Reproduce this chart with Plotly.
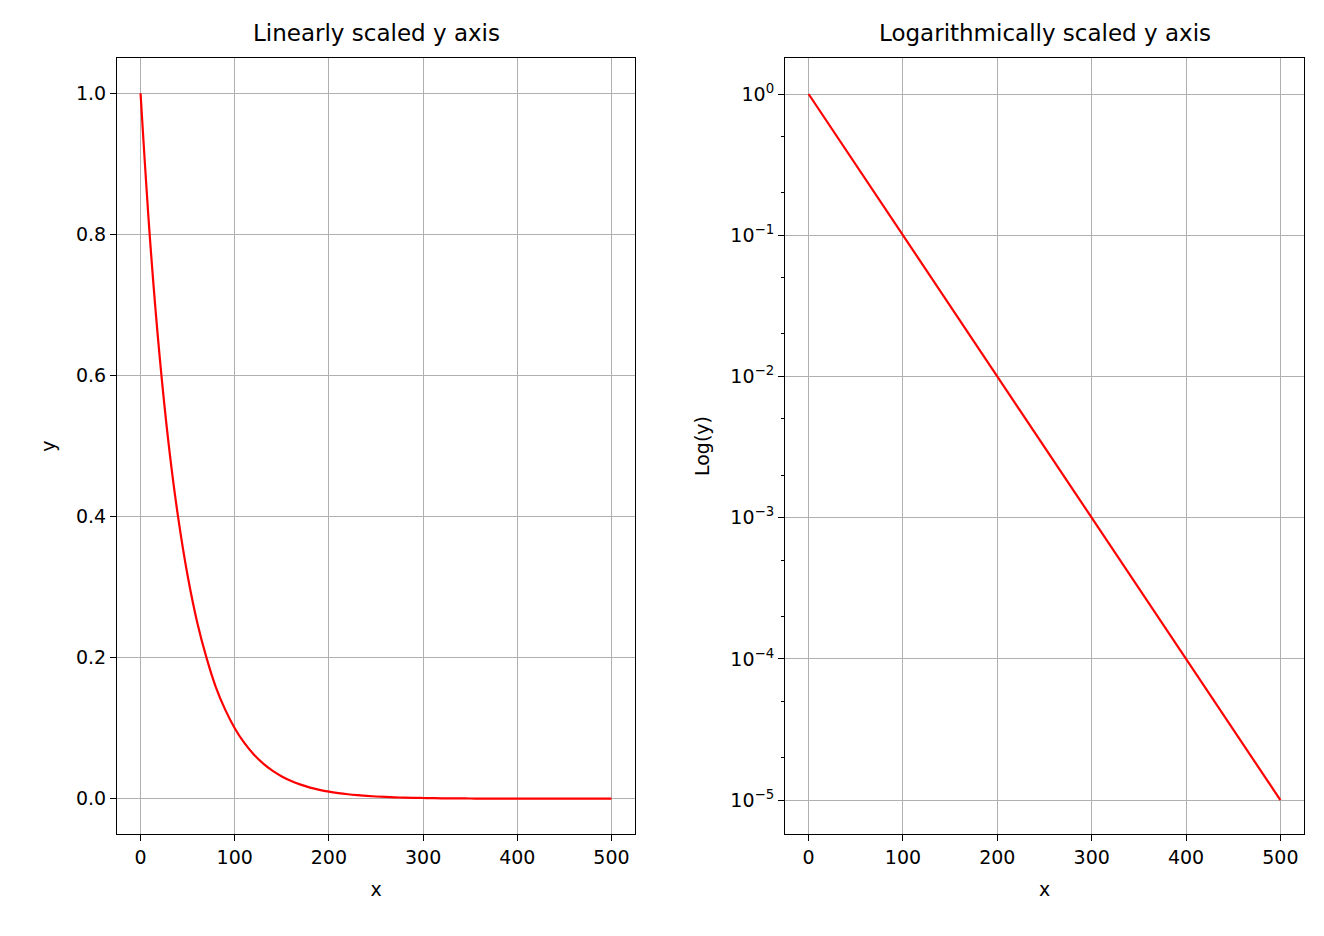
import plotly.graph_objects as go

x_vals = list(range(0, 501, 10))
y_vals = [
    1.0, 0.794, 0.631, 0.501, 0.398, 0.316, 0.251, 0.200, 0.158, 0.126,
    0.1, 0.0794, 0.0631, 0.0501, 0.0398, 0.0316, 0.0251, 0.0200, 0.0158, 0.0126,
    0.01, 0.00794, 0.00631, 0.00501, 0.00398, 0.00316, 0.00251, 0.00200, 0.00158, 0.00126,
    0.001, 0.000794, 0.000631, 0.000501, 0.000398, 0.000316, 0.000251, 0.000200, 0.000158, 0.000126,
    0.0001, 0.0000794, 0.0000631, 0.0000501, 0.0000398, 0.0000316, 0.0000251, 0.0000200, 0.0000158, 0.0000126,
    0.00001,
]
log_tickvals = [1, 0.1, 0.01, 0.001, 0.0001, 0.00001]
log_ticktext = ["10<sup>0</sup>", "10<sup>−1</sup>", "10<sup>−2</sup>",
                "10<sup>−3</sup>", "10<sup>−4</sup>", "10<sup>−5</sup>"]

# page has an 8px body margin, so size the figure to fit inside it
OFF = 8
W, H = 1324 - 2 * OFF, 936 - 2 * OFF


def px_x(p):
    return (p - OFF) / W


def px_y(p):
    return 1 - (p - OFF) / H


fig = go.Figure()
fig.add_trace(go.Scatter(x=x_vals, y=y_vals, mode="lines", line=dict(color="red", width=2.2, shape="spline"),
                         xaxis="x", yaxis="y", showlegend=False))
fig.add_trace(go.Scatter(x=x_vals, y=y_vals, mode="lines", line=dict(color="red", width=2.2),
                         xaxis="x2", yaxis="y2", showlegend=False))

ydom = [px_y(834), px_y(58)]
common = dict(showline=True, linecolor="black", linewidth=1.2, mirror=True,
              ticks="outside", ticklen=6, tickcolor="black", showgrid=True,
              gridcolor="#b0b0b0", gridwidth=1, zeroline=False,
              tickfont=dict(size=19, color="black"))
xt = dict(tickvals=[0, 100, 200, 300, 400, 500], range=[-25, 525])
fig.update_layout(
    width=W, height=H, margin=dict(l=0, r=0, t=0, b=0),
    plot_bgcolor="white", paper_bgcolor="white",
    font=dict(family="DejaVu Sans", color="black"),
    xaxis=dict(domain=[px_x(117), px_x(635)], anchor="y",
               title=dict(text="x", font=dict(size=19)), **xt, **common),
    yaxis=dict(domain=ydom, anchor="x", range=[-0.05, 1.05],
               tickvals=[0, 0.2, 0.4, 0.6, 0.8, 1.0], tickformat=".1f",
               title=dict(text="y", font=dict(size=19)), **common),
    xaxis2=dict(domain=[px_x(785), px_x(1304)], anchor="y2",
                title=dict(text="x", font=dict(size=19)), **xt, **common),
    yaxis2=dict(domain=ydom, anchor="x2", type="log", range=[-5.24, 0.255],
                tickvals=log_tickvals, ticktext=log_ticktext,
                minor=dict(ticks="outside", ticklen=3, tickcolor="black", showgrid=False),
                title=dict(text="Log(y)", font=dict(size=19)), **common),
    annotations=[
        dict(text="Linearly scaled y axis", x=px_x((117 + 635) / 2), y=px_y(33),
             xanchor="center", yanchor="middle",
             xref="paper", yref="paper", showarrow=False, font=dict(size=23)),
        dict(text="Logarithmically scaled y axis", x=px_x((785 + 1304) / 2), y=px_y(33),
             xanchor="center", yanchor="middle",
             xref="paper", yref="paper", showarrow=False, font=dict(size=23)),
    ],
)
fig.write_html("out.html")
